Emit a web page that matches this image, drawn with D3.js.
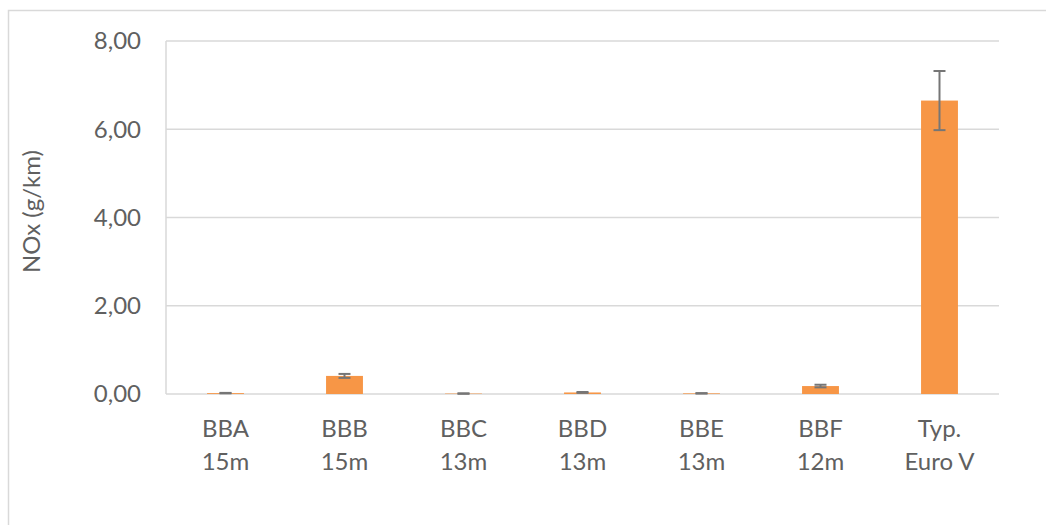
<!DOCTYPE html>
<html>
<head>
<meta charset="utf-8">
<script src="https://cdn.jsdelivr.net/npm/d3@7"></script>
<style>
  body { margin: 0; background: #fff; }
  text { font-family: Lato, "Open Sans", sans-serif; fill: #606060; }
</style>
</head>
<body>
<script>
// data
const categories = [['BBA', '15m'], ['BBB', '15m'], ['BBC', '13m'], ['BBD', '13m'], ['BBE', '13m'], ['BBF', '12m'], ['Typ.', 'Euro V']];
const values = [0.02, 0.41, 0.01, 0.035, 0.015, 0.18, 6.65];
const errors = [0.005, 0.045, 0.005, 0.01, 0.005, 0.03, 0.67];
const yTicks = [0, 2, 4, 6, 8];
const yTitle = 'NOx (g/km)';

const width = 1046, height = 525;
const margin = { left: 166, right: 47, top: 41, bottom: 131 };

const svg = d3.select('body').append('svg')
  .attr('width', width)
  .attr('height', height);

// chart frame
svg.append('rect')
  .attr('x', 8.5).attr('y', 10.5)
  .attr('width', 1060).attr('height', 540)
  .attr('fill', 'none')
  .attr('stroke', '#d9d9d9')
  .attr('stroke-width', 1.5);

const x = d3.scaleBand()
  .domain(categories.map((d, i) => i))
  .range([margin.left, width - margin.right])
  .paddingInner(0.69)
  .paddingOuter(0.345);

const y = d3.scaleLinear()
  .domain([0, 8])
  .range([height - margin.bottom, margin.top]);

// gridlines
svg.append('g')
  .selectAll('line')
  .data(yTicks)
  .enter().append('line')
  .attr('x1', margin.left)
  .attr('x2', width - margin.right)
  .attr('y1', d => y(d))
  .attr('y2', d => y(d))
  .attr('stroke', '#d9d9d9')
  .attr('stroke-width', 1.5);

// left border of plot area
svg.append('line')
  .attr('x1', margin.left).attr('x2', margin.left)
  .attr('y1', y(8)).attr('y2', y(0))
  .attr('stroke', '#d9d9d9')
  .attr('stroke-width', 1.5);

// y tick labels
svg.append('g')
  .selectAll('text')
  .data(yTicks)
  .enter().append('text')
  .attr('x', 141)
  .attr('y', d => y(d))
  .attr('dy', '0.35em')
  .attr('text-anchor', 'end')
  .style('font-size', '24px')
  .text(d => d3.format('.2f')(d).replace('.', ','));

// y title
svg.append('text')
  .attr('transform', `translate(40,${(y(0) + y(8)) / 2 - 6}) rotate(-90)`)
  .attr('text-anchor', 'middle')
  .style('font-size', '24px')
  .text(yTitle);

// bars
svg.append('g')
  .selectAll('rect')
  .data(values)
  .enter().append('rect')
  .attr('x', (d, i) => x(i))
  .attr('width', x.bandwidth())
  .attr('y', d => y(d))
  .attr('height', d => y(0) - y(d))
  .attr('fill', '#f79646');

// error bars
const eb = svg.append('g')
  .attr('stroke', '#767676')
  .attr('stroke-width', 2);
values.forEach((v, i) => {
  const cx = x(i) + x.bandwidth() / 2;
  const lo = y(Math.max(0, v - errors[i])), hi = y(v + errors[i]);
  eb.append('line').attr('x1', cx).attr('x2', cx).attr('y1', lo).attr('y2', hi);
  eb.append('line').attr('x1', cx - 6).attr('x2', cx + 6).attr('y1', lo).attr('y2', lo);
  eb.append('line').attr('x1', cx - 6).attr('x2', cx + 6).attr('y1', hi).attr('y2', hi);
});

// category labels
const lab = svg.append('g')
  .selectAll('text')
  .data(categories)
  .enter().append('text')
  .attr('text-anchor', 'middle')
  .style('font-size', '24px');
lab.each(function(d, i) {
  const t = d3.select(this);
  const cx = x(i) + x.bandwidth() / 2;
  d.forEach((line, k) => {
    t.append('tspan')
      .attr('x', cx)
      .attr('y', 437 + k * 33)
      .text(line);
  });
});
</script>
</body>
</html>
